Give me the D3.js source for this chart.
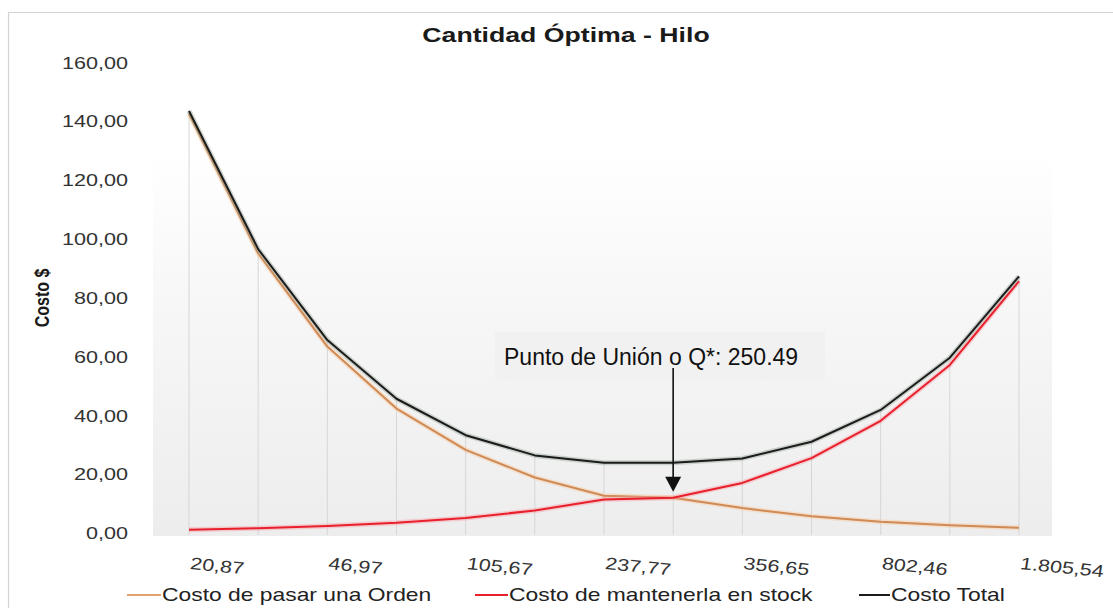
<!DOCTYPE html>
<html>
<head>
<meta charset="utf-8">
<script src="https://cdn.jsdelivr.net/npm/d3@7"></script>
<style>
  html, body { margin: 0; padding: 0; background: #ffffff; }
  svg { display: block; font-family: "Liberation Sans", Arial, sans-serif; }
</style>
</head>
<body>
<svg id="chart" width="1113" height="608"></svg>
<script>
// Order quantities Q (categories along the x axis)
const qValues = [20.87, 31.31, 46.97, 70.45, 105.67, 158.51, 237.77, 250.49, 356.65, 534.98, 802.46, 1203.69, 1805.54];
// Quantities that carry a visible tick label
const shownTicks = [20.87, 46.97, 105.67, 237.77, 356.65, 802.46, 1805.54];

// Cost series ($)
const orderCost   = [142.36, 94.89, 63.25, 42.17, 28.12, 18.74, 12.50, 11.86, 8.33, 5.55, 3.70, 2.47, 1.65];
const holdingCost = [0.99, 1.48, 2.22, 3.34, 5.00, 7.51, 11.26, 11.86, 16.89, 25.33, 38.00, 56.99, 85.49];
const totalCost   = [143.35, 96.37, 65.47, 45.51, 33.12, 26.25, 23.76, 23.72, 25.22, 30.88, 41.70, 59.46, 87.14];

const yTicks = [0, 20, 40, 60, 80, 100, 120, 140, 160];

const seriesNames = ["Costo de pasar una Orden", "Costo de mantenerla en stock", "Costo Total"];
const optimumQ = 250.49;

const title = "Cantidad Óptima - Hilo";
const yTitle = "Costo $";
const noteText = "Punto de Unión o Q*: " + optimumQ.toFixed(2);

// ---------------------------------------------------------------------------
const SX = 1.27; // horizontal text stretch used throughout the chart
const svg = d3.select("#chart");

const es = d3.formatLocale({ decimal: ",", thousands: ".", grouping: [3], currency: ["$", ""] });
const fmt = es.format(",.2f");

const x = d3.scalePoint().domain(qValues).range([189, 1019]);
const y = d3.scaleLinear().domain([0, 160]).range([532.6, 62]);

// Plot background gradient
const defs = svg.append("defs");
const grad = defs.append("linearGradient").attr("id", "plotBg")
  .attr("x1", 0).attr("y1", 0).attr("x2", 0).attr("y2", 1);
grad.append("stop").attr("offset", "0%").attr("stop-color", "#ffffff");
grad.append("stop").attr("offset", "45%").attr("stop-color", "#f6f6f6");
grad.append("stop").attr("offset", "100%").attr("stop-color", "#ededed");

// Outer frame (top and left edges)
svg.append("path")
  .attr("d", "M8.5,608 V12.5 H1113")
  .attr("fill", "none")
  .attr("stroke", "#d2d2d2")
  .attr("stroke-width", 1.2);

const plotTop = 150, plotBottom = 536, plotLeft = 153, plotRight = 1052;
svg.append("rect")
  .attr("x", plotLeft).attr("y", plotTop)
  .attr("width", plotRight - plotLeft).attr("height", plotBottom - plotTop)
  .attr("fill", "url(#plotBg)");

// Drop lines from the highest series down to the floor
svg.append("g").selectAll("line")
  .data(qValues)
  .join("line")
  .attr("x1", d => x(d)).attr("x2", d => x(d))
  .attr("y1", (d, i) => y(totalCost[i]))
  .attr("y2", plotBottom - 1)
  .attr("stroke", "#d6d6d6")
  .attr("stroke-width", 1);

// Series lines
const series = [
  { name: seriesNames[0], values: orderCost,   color: "#d08a55", halo: "#f7c9a0", legend: "#e4a26e" },
  { name: seriesNames[1], values: holdingCost, color: "#e8202c", halo: "#f7a0a8", legend: "#e8202c" },
  { name: seriesNames[2], values: totalCost,   color: "#1b1b1b", halo: "#9aa89a", legend: "#1b1b1b" }
];

const line = d3.line()
  .x((d, i) => x(qValues[i]))
  .y(d => y(d));

const lines = svg.append("g");
series.forEach(s => {
  lines.append("path")
    .attr("d", line(s.values))
    .attr("fill", "none")
    .attr("stroke", s.halo)
    .attr("stroke-opacity", 0.45)
    .attr("stroke-width", 5)
    .attr("stroke-linejoin", "round");
  lines.append("path")
    .attr("d", line(s.values))
    .attr("fill", "none")
    .attr("stroke", s.color)
    .attr("stroke-width", 2)
    .attr("stroke-linejoin", "round");
});

// Y axis
const yAxis = svg.append("g")
  .attr("transform", "translate(128,0)")
  .call(d3.axisLeft(y).tickValues(yTicks).tickFormat(fmt).tickSize(0).tickPadding(0));
yAxis.select(".domain").remove();
yAxis.selectAll("text")
  .attr("x", 0)
  .attr("dy", "0.36em")
  .attr("transform", `scale(${SX},1)`)
  .attr("font-size", 17)
  .attr("fill", "#333333")
  .attr("font-family", "\"Liberation Sans\", Arial, sans-serif");

// X axis
const xAxis = svg.append("g")
  .attr("transform", "translate(0,569)")
  .call(d3.axisBottom(x).tickValues(shownTicks).tickFormat(fmt).tickSize(0).tickPadding(0));
xAxis.select(".domain").remove();
xAxis.selectAll("text")
  .attr("x", 0).attr("y", 0).attr("dy", 0)
  .attr("text-anchor", "start")
  .attr("transform", `scale(${SX},1) rotate(7)`)
  .attr("font-size", 17)
  .attr("fill", "#333333")
  .attr("font-family", "\"Liberation Sans\", Arial, sans-serif");

// Title
svg.append("text")
  .attr("transform", `translate(566,42) scale(${SX},1)`)
  .attr("text-anchor", "middle")
  .attr("font-size", 21)
  .attr("font-weight", "bold")
  .attr("fill", "#1a1a1a")
  .text(title);

// Y axis title
svg.append("text")
  .attr("transform", `translate(49,298) scale(${SX},1) rotate(-90)`)
  .attr("text-anchor", "middle")
  .attr("font-size", 16)
  .attr("font-weight", "bold")
  .attr("fill", "#1a1a1a")
  .text(yTitle);

// Legend
const legendItems = [
  { s: series[0], x0: 127, x1: 161 },
  { s: series[1], x0: 475, x1: 508 },
  { s: series[2], x0: 859, x1: 890 }
];
const legend = svg.append("g");
legendItems.forEach(item => {
  legend.append("line")
    .attr("x1", item.x0).attr("x2", item.x1)
    .attr("y1", 595).attr("y2", 595)
    .attr("stroke", item.s.legend)
    .attr("stroke-width", 2);
  legend.append("text")
    .attr("transform", `translate(${item.x1 + 1},601) scale(${SX},1)`)
    .attr("font-size", 18)
    .attr("fill", "#222222")
    .text(item.s.name);
});

// Optimum annotation
const note = svg.append("g");
note.append("rect")
  .attr("x", 495).attr("y", 332)
  .attr("width", 330).attr("height", 48)
  .attr("fill", "#f1f1f1");
note.append("text")
  .attr("x", 504).attr("y", 365)
  .attr("font-size", 23)
  .attr("fill", "#111111")
  .text(noteText);

const ax = x(optimumQ);
const tipY = y(holdingCost[qValues.indexOf(optimumQ)]) - 6;
note.append("line")
  .attr("x1", ax).attr("x2", ax)
  .attr("y1", 368).attr("y2", tipY - 13)
  .attr("stroke", "#111111")
  .attr("stroke-width", 1.6);
note.append("path")
  .attr("d", `M${ax - 8},${tipY - 15} L${ax + 8},${tipY - 15} L${ax},${tipY} Z`)
  .attr("fill", "#111111");
</script>
</body>
</html>
